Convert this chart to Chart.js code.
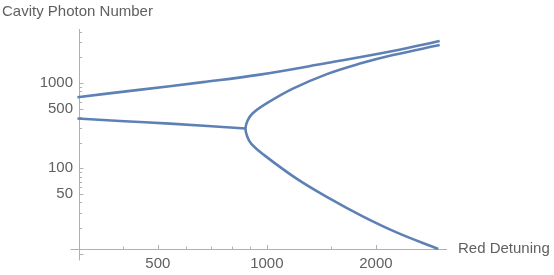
<!DOCTYPE html>
<html>
<head>
    <title>Cavity Photon Number vs Red Detuning</title>
    <script src="https://cdn.jsdelivr.net/npm/chart.js@4.4.1/dist/chart.umd.min.js"></script>
    <style>
        body {
            margin: 0;
            background-color: white;
        }
        canvas {
            display: block;
        }
    </style>
</head>
<body>
    <canvas id="photonChart" width="554" height="275"></canvas>
    <script>
        // upper (bright) branch
        const upperX = [300, 437, 666, 957, 1465, 2229, 3000];
        const upperY = [684, 828, 1027, 1259, 1719, 2377, 3120];

        // middle branch, runs into the fold
        const middleX = [300, 393, 540, 873];
        const middleY = [385, 360, 335, 293];

        // fold: from the top end, round the turning point, down to the bottom end
        const foldX = [3000, 2229, 1807, 1465, 1180, 998, 913, 885, 873, 883, 905, 979, 1208, 1493, 1845, 2280, 2973];
        const foldY = [2800, 2133, 1694, 1276, 861, 577, 440, 364, 293, 236, 195, 145, 75.7, 44.1, 27.1, 17.7, 11.3];

        // tick labels
        const xTickValues = [500, 1000, 2000];
        const yTickValues = [50, 100, 500, 1000];

        // tick marks without labels
        const xMinorTicks = [400, 600, 700, 800, 900, 1500];
        const yMajorTicks = [10, 50, 100, 500, 1000];
        const yMinorTicks = [20, 30, 40, 60, 70, 80, 90, 200, 300, 400, 600, 700, 800, 900, 2000, 3000, 4000];

        // plot range and where the axes cross
        const xRange = [303, 3143];
        const yRange = [11.3, 4318];
        const xAxisFrom = 287;
        const yAxisTo = 8.3;

        const lineColor = '#5e81b5';
        const axisColor = '#b0b0b0';
        const textColor = '#606060';
        const fontFamily = '"Liberation Sans", Arial, sans-serif';

        function toPoints(xs, ys) {
            return xs.map((x, i) => ({ x: x, y: ys[i] }));
        }

        function branch(xs, ys) {
            return {
                data: toPoints(xs, ys),
                showLine: true,
                borderColor: lineColor,
                backgroundColor: lineColor,
                borderWidth: 2.6,
                pointRadius: 0,
                tension: 0.4,
                clip: false
            };
        }

        // Mathematica style axes: thin gray lines crossing, ticks pointing inward
        const axesPlugin = {
            id: 'mmaAxes',
            beforeDatasetsDraw(chart) {
                const ctx = chart.ctx;
                const xs = chart.scales.x;
                const ys = chart.scales.y;
                const area = chart.chartArea;
                const x0 = area.left;
                const y0 = area.bottom;

                ctx.save();
                ctx.strokeStyle = axisColor;
                ctx.lineWidth = 1;
                ctx.beginPath();
                ctx.moveTo(xs.getPixelForValue(xAxisFrom), y0 + 0.5);
                ctx.lineTo(area.right, y0 + 0.5);
                ctx.moveTo(x0 + 0.5, area.top);
                ctx.lineTo(x0 + 0.5, ys.getPixelForValue(yAxisTo));

                yMajorTicks.forEach(v => {
                    const p = Math.round(ys.getPixelForValue(v)) + 0.5;
                    ctx.moveTo(x0, p);
                    ctx.lineTo(x0 + 4.5, p);
                });
                yMinorTicks.forEach(v => {
                    const p = Math.round(ys.getPixelForValue(v)) + 0.5;
                    ctx.moveTo(x0, p);
                    ctx.lineTo(x0 + 3, p);
                });
                xTickValues.forEach(v => {
                    const p = Math.round(xs.getPixelForValue(v)) + 0.5;
                    ctx.moveTo(p, y0);
                    ctx.lineTo(p, y0 - 4);
                });
                xMinorTicks.forEach(v => {
                    const p = Math.round(xs.getPixelForValue(v)) + 0.5;
                    ctx.moveTo(p, y0);
                    ctx.lineTo(p, y0 - 2.5);
                });
                ctx.stroke();
                ctx.restore();
            },
            afterDraw(chart) {
                const ctx = chart.ctx;
                const area = chart.chartArea;
                ctx.save();
                ctx.fillStyle = textColor;
                ctx.font = '15px ' + fontFamily;
                ctx.textAlign = 'left';
                ctx.textBaseline = 'alphabetic';
                ctx.fillText('Cavity Photon Number', 2, 16);
                ctx.textBaseline = 'middle';
                ctx.fillText('Red Detuning', area.right + 11, area.bottom);
                ctx.restore();
            }
        };

        new Chart(document.getElementById('photonChart').getContext('2d'), {
            type: 'scatter',
            data: {
                datasets: [
                    branch(upperX, upperY),
                    branch(middleX, middleY),
                    branch(foldX, foldY)
                ]
            },
            options: {
                responsive: false,
                animation: false,
                layout: {
                    padding: { top: 29, right: 107, bottom: 0, left: 0 }
                },
                plugins: {
                    legend: { display: false },
                    tooltip: { enabled: false }
                },
                scales: {
                    x: {
                        type: 'logarithmic',
                        min: xRange[0],
                        max: xRange[1],
                        grid: { display: false, drawTicks: false },
                        border: { display: false },
                        ticks: {
                            autoSkip: false,
                            maxRotation: 0,
                            padding: 6,
                            color: textColor,
                            font: { size: 15, family: fontFamily },
                            callback: v => String(v)
                        },
                        afterBuildTicks: scale => {
                            scale.ticks = xTickValues.map(v => ({ value: v }));
                        },
                        afterFit: scale => {
                            scale.height = 26;
                        }
                    },
                    y: {
                        type: 'logarithmic',
                        min: yRange[0],
                        max: yRange[1],
                        grid: { display: false, drawTicks: false },
                        border: { display: false },
                        ticks: {
                            autoSkip: false,
                            padding: 6,
                            color: textColor,
                            font: { size: 15, family: fontFamily },
                            callback: v => String(v)
                        },
                        afterBuildTicks: scale => {
                            scale.ticks = yTickValues.map(v => ({ value: v }));
                        },
                        afterFit: scale => {
                            scale.width = 79;
                        }
                    }
                }
            },
            plugins: [axesPlugin]
        });
    </script>
</body>
</html>
